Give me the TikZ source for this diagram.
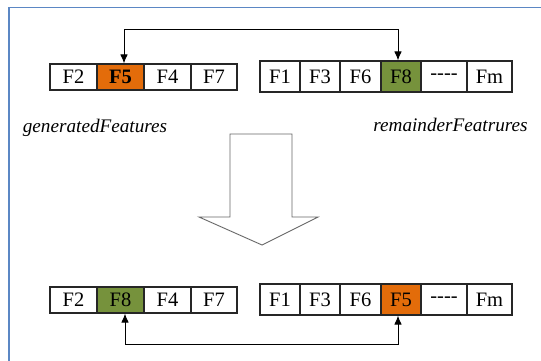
\documentclass[tikz,border=0pt]{standalone}
\usepackage{fontspec}
\setmainfont{Liberation Serif}
\usepackage{tikz}
\usetikzlibrary{arrows.meta}

\definecolor{swapout}{HTML}{E36C0A}
\definecolor{swapin}{HTML}{76923C}
\definecolor{frameblue}{HTML}{5B87C4}

\begin{document}
\begin{tikzpicture}[x=1pt, y=-1pt,
        cell/.style={draw=black!85, line width=1.1pt, inner sep=0pt, minimum height=26pt, font=\fontsize{20.5}{20.5}\selectfont},
        tall/.style={cell, minimum height=31pt},
        lbl/.style={inner sep=0pt, font=\fontsize{19.2}{19.2}\selectfont\itshape},
        conn/.style={line width=0.9pt, {Latex[length=9pt,width=7.5pt]}-{Latex[length=9pt,width=7.5pt]}}]
        \useasboundingbox (0,0) rectangle (541,360);
        \draw[frameblue, line width=1.6pt] (9,361) -- (9,7.5) -- (542,7.5);

        % before the swap
        \node[cell, minimum width=47pt] (g2) at (73.5, 77) {F2};
        \node[cell, minimum width=47pt, fill=swapout] (g5) at (120.5, 77) {\textbf{F5}};
        \node[cell, minimum width=47pt] (g4) at (167.5, 77) {F4};
        \node[cell, minimum width=46pt] (g7) at (214, 77) {F7};

        \node[tall, minimum width=40pt] (r1) at (280, 76.5) {F1};
        \node[tall, minimum width=40pt] (r3) at (320, 76.5) {F3};
        \node[tall, minimum width=41pt] (r6) at (360.5, 76.5) {F6};
        \node[tall, minimum width=40pt, fill=swapin] (r8) at (401, 76.5) {F8};
        \node[tall, minimum width=46pt] (rd) at (444, 76.5) {{-}{-}{-}{-}};
        \node[tall, minimum width=45pt] (rm) at (489.5, 76.5) {Fm};

        \node[lbl] (glabel) at (95, 128) {generatedFeatures};
        \node[lbl] (rlabel) at (450.5, 125) {remainderFeatrures};

        \coordinate (topline) at (0, 29.5);
        \draw[conn] ([xshift=3.5pt]g5.north) -- ([xshift=3.5pt]g5.north |- topline) -| ([xshift=-3pt]r8.north);

        % big arrow
        \draw[draw=black!60, line width=0.9pt, fill=white] (230,134) -- (292,134) -- (292,217) -- (318,217)
            -- (262,245) -- (199,217) -- (230,217) -- cycle;

        % after the swap
        \node[cell, minimum width=47pt] (G2) at (73.5, 300) {F2};
        \node[cell, minimum width=47pt, fill=swapin] (G8) at (120.5, 300) {F8};
        \node[cell, minimum width=47pt] (G4) at (167.5, 300) {F4};
        \node[cell, minimum width=46pt] (G7) at (214, 300) {F7};

        \node[tall, minimum width=40pt] (R1) at (280, 299.5) {F1};
        \node[tall, minimum width=40pt] (R3) at (320, 299.5) {F3};
        \node[tall, minimum width=41pt] (R6) at (360.5, 299.5) {F6};
        \node[tall, minimum width=40pt, fill=swapout] (R5) at (401, 299.5) {F5};
        \node[tall, minimum width=46pt] (Rd) at (444, 299.5) {{-}{-}{-}{-}};
        \node[tall, minimum width=45pt] (Rm) at (489.5, 299.5) {Fm};

        \coordinate (botline) at (0, 344.5);
        \draw[conn] ([xshift=4.5pt]G8.south) -- ([xshift=4.5pt]G8.south |- botline) -| ([xshift=-3pt]R5.south);
\end{tikzpicture}
\end{document}
